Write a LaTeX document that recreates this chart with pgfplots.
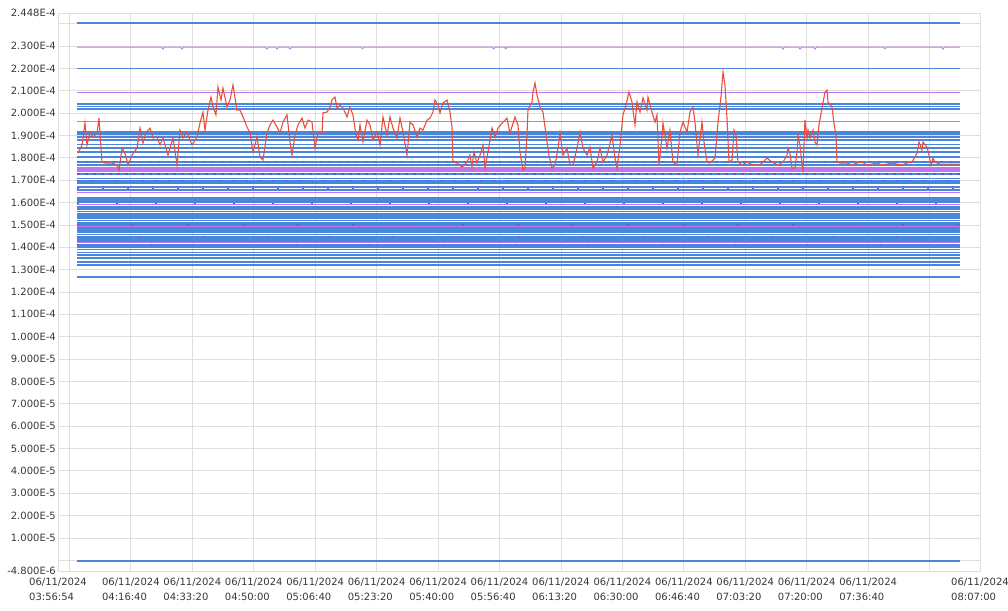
\documentclass[border=0pt]{standalone}
\usepackage{pgfplots}
\pgfplotsset{compat=1.18}
\usepackage{fontspec}
\setmainfont{DejaVu Sans}
\definecolor{lblue}{RGB}{74,134,220}
\definecolor{lpurp}{RGB}{190,118,238}
\definecolor{dpurp}{RGB}{105,80,225}
\definecolor{lred}{RGB}{236,78,62}
\definecolor{gridc}{RGB}{222,222,222}
\definecolor{labc}{RGB}{55,55,55}
\begin{document}
\begin{tikzpicture}[x=1pt,y=1pt]
\useasboundingbox (0,0) rectangle (1008,610);
\begin{axis}[
  at={(58pt,39pt)}, anchor=south west,
  scale only axis, width=922pt, height=558pt,
  xmin=14214, xmax=29220, ymin=-4.8e-6, ymax=2.448e-4,
  scaled x ticks=false, scaled y ticks=false,
  axis line style={draw=gridc, line width=0.8pt},
  tick style={draw=none},
  xtick={14214,15400,16400,17400,18400,19400,20400,21400,22400,23400,24400,25400,26400,27400,29220},
  xticklabels={{06/11/2024\\03:56:54},{06/11/2024\\04:16:40},{06/11/2024\\04:33:20},{06/11/2024\\04:50:00},{06/11/2024\\05:06:40},{06/11/2024\\05:23:20},{06/11/2024\\05:40:00},{06/11/2024\\05:56:40},{06/11/2024\\06:13:20},{06/11/2024\\06:30:00},{06/11/2024\\06:46:40},{06/11/2024\\07:03:20},{06/11/2024\\07:20:00},{06/11/2024\\07:36:40},{06/11/2024\\08:07:00}},
  ytick={-4.8e-6,1e-5,2e-5,3e-5,4e-5,5e-5,6e-5,7e-5,8e-5,9e-5,1e-4,1.1e-4,1.2e-4,1.3e-4,1.4e-4,1.5e-4,1.6e-4,1.7e-4,1.8e-4,1.9e-4,2e-4,2.1e-4,2.2e-4,2.3e-4,2.448e-4},
  yticklabels={-4.800E-6,1.000E-5,2.000E-5,3.000E-5,4.000E-5,5.000E-5,6.000E-5,7.000E-5,8.000E-5,9.000E-5,1.000E-4,1.100E-4,1.200E-4,1.300E-4,1.400E-4,1.500E-4,1.600E-4,1.700E-4,1.800E-4,1.900E-4,2.000E-4,2.100E-4,2.200E-4,2.300E-4,2.448E-4},
  minor xtick={14400,15400,16400,17400,18400,19400,20400,21400,22400,23400,24400,25400,26400,27400,28400},
  minor ytick={0,1e-5,2e-5,3e-5,4e-5,5e-5,6e-5,7e-5,8e-5,9e-5,1e-4,1.1e-4,1.2e-4,1.3e-4,1.4e-4,1.5e-4,1.6e-4,1.7e-4,1.8e-4,1.9e-4,2e-4,2.1e-4,2.2e-4,2.3e-4,2.4e-4},
  xminorgrids, yminorgrids,
  minor grid style={draw=gridc, line width=0.8pt},
  xticklabel style={align=left, font=\fontsize{10}{15}\selectfont, text=labc, inner sep=1pt, yshift=-6pt},
  yticklabel style={font=\fontsize{10}{12}\selectfont, text=labc, inner sep=1pt, xshift=-1pt},
]
% horizontal blue lines
\pgfplotsinvokeforeach{2.403e-4,2.200e-4,2.040e-4,2.030e-4,2.020e-4,1.915e-4,1.905e-4,1.895e-4,1.880e-4,1.860e-4,1.843e-4,1.825e-4,1.805e-4,1.783e-4,1.768e-4,1.728e-4,1.708e-4,1.696e-4,1.686e-4,1.671e-4,1.656e-4,1.622e-4,1.612e-4,1.602e-4,1.580e-4,1.570e-4,1.560e-4,1.550e-4,1.540e-4,1.530e-4,1.520e-4,1.510e-4,1.500e-4,1.487e-4,1.477e-4,1.467e-4,1.457e-4,1.447e-4,1.437e-4,1.427e-4,1.410e-4,1.400e-4,1.390e-4,1.377e-4,1.365e-4,1.351e-4,1.335e-4,1.321e-4,1.268e-4,-0.03e-5}{
  \addplot[lblue, line width=1.8pt, forget plot] coordinates {(14523,#1) (28894,#1)};
}
% horizontal purple lines
\pgfplotsinvokeforeach{2.094e-4,1.964e-4,1.643e-4,1.592e-4,1.495e-4,1.422e-4}{
  \addplot[lpurp, line width=1.0pt, forget plot] coordinates {(14523,#1) (28894,#1)};
}
\pgfplotsinvokeforeach{1.755e-4,1.745e-4,1.738e-4}{
  \addplot[lpurp, line width=1.4pt, forget plot] coordinates {(14523,#1) (28894,#1)};
}
% rows carrying small dark points
\addplot[dpurp, line width=1.2pt, dash pattern=on 2pt off 7pt, forget plot] coordinates {(14523,1.783e-4) (28894,1.783e-4)};
\addplot[dpurp, line width=1.2pt, dash pattern=on 3pt off 5pt, forget plot] coordinates {(14523,1.728e-4) (28894,1.728e-4)};
\addplot[dpurp, line width=1.2pt, dash pattern=on 2pt off 11pt, forget plot] coordinates {(14523,1.700e-4) (28894,1.700e-4)};
\addplot[dpurp, line width=1.0pt, dash pattern=on 2pt off 23pt, forget plot] coordinates {(14523,1.664e-4) (28894,1.664e-4)};
\addplot[dpurp, line width=1.0pt, dash pattern=on 2pt off 37pt, forget plot] coordinates {(14523,1.595e-4) (28894,1.595e-4)};
\addplot[dpurp, line width=1.0pt, dash pattern=on 2pt off 53pt, forget plot] coordinates {(14523,1.500e-4) (28894,1.500e-4)};
\addplot[dpurp, line width=1.0pt, dash pattern=on 2pt off 61pt, forget plot] coordinates {(14523,1.450e-4) (28894,1.450e-4)};
\addplot[dpurp, line width=1.0pt, dash pattern=on 2pt off 71pt, forget plot] coordinates {(14523,1.412e-4) (28894,1.412e-4)};
\addplot[lpurp, line width=1.0pt] coordinates {
(14523,2.295e-4) (15900,2.295e-4) (15923,2.287e-4) (15946,2.295e-4)
(16210,2.295e-4) (16232,2.287e-4) (16255,2.295e-4)
(17590,2.295e-4) (17616,2.287e-4) (17640,2.295e-4)
(17755,2.295e-4) (17778,2.287e-4) (17800,2.295e-4)
(17965,2.295e-4) (17990,2.287e-4) (18015,2.295e-4)
(19145,2.295e-4) (19170,2.288e-4) (19195,2.295e-4)
(21280,2.295e-4) (21305,2.288e-4) (21330,2.295e-4)
(21480,2.295e-4) (21500,2.288e-4) (21525,2.295e-4)
(25990,2.295e-4) (26013,2.287e-4) (26035,2.295e-4)
(26265,2.295e-4) (26290,2.287e-4) (26315,2.295e-4)
(26510,2.295e-4) (26534,2.287e-4) (26560,2.295e-4)
(27650,2.295e-4) (27673,2.288e-4) (27695,2.295e-4)
(28595,2.295e-4) (28617,2.287e-4) (28640,2.295e-4) (28894,2.295e-4)};
% red series
\addplot[lred, line width=1.1pt] coordinates {
(14540,1.821e-4) (14605,1.857e-4) (14653,1.956e-4) (14686,1.857e-4) (14735,1.915e-4)
(14784,1.893e-4) (14849,1.911e-4) (14881,1.978e-4) (14930,1.781e-4) (14979,1.777e-4)
(15093,1.777e-4) (15174,1.768e-4) (15207,1.745e-4) (15256,1.844e-4) (15304,1.821e-4)
(15353,1.768e-4) (15418,1.812e-4) (15500,1.844e-4) (15549,1.933e-4) (15597,1.866e-4)
(15646,1.915e-4) (15711,1.933e-4) (15760,1.889e-4) (15825,1.893e-4) (15874,1.857e-4)
(15923,1.889e-4) (16004,1.812e-4) (16086,1.889e-4) (16151,1.768e-4) (16200,1.924e-4)
(16248,1.889e-4) (16314,1.915e-4) (16395,1.857e-4) (16476,1.893e-4) (16525,1.956e-4)
(16574,2.005e-4) (16606,1.924e-4) (16655,2.014e-4) (16704,2.072e-4) (16737,2.027e-4)
(16785,1.992e-4) (16818,2.117e-4) (16867,2.059e-4) (16899,2.112e-4) (16964,2.027e-4)
(17013,2.059e-4) (17062,2.126e-4) (17127,2.014e-4) (17176,2.014e-4) (17225,1.983e-4)
(17290,1.938e-4) (17339,1.911e-4) (17388,1.826e-4) (17453,1.893e-4) (17502,1.803e-4)
(17550,1.790e-4) (17616,1.911e-4) (17664,1.947e-4) (17713,1.969e-4) (17778,1.938e-4)
(17827,1.911e-4) (17876,1.960e-4) (17941,1.992e-4) (17990,1.871e-4) (18022,1.812e-4)
(18071,1.902e-4) (18120,1.947e-4) (18185,1.978e-4) (18234,1.933e-4) (18283,1.969e-4)
(18348,1.960e-4) (18397,1.844e-4) (18446,1.915e-4) (18511,1.911e-4) (18527,2.001e-4)
(18592,2.005e-4) (18641,2.027e-4) (18673,2.059e-4) (18722,2.072e-4) (18755,2.023e-4)
(18804,2.036e-4) (18852,2.023e-4) (18918,1.983e-4) (18966,2.027e-4) (19015,1.992e-4)
(19064,1.902e-4) (19097,1.880e-4) (19129,1.947e-4) (19178,1.871e-4) (19243,1.969e-4)
(19292,1.947e-4) (19341,1.880e-4) (19406,1.915e-4) (19455,1.857e-4) (19503,1.983e-4)
(19569,1.902e-4) (19617,1.983e-4) (19666,1.933e-4) (19731,1.889e-4) (19780,1.978e-4)
(19829,1.915e-4) (19894,1.812e-4) (19943,1.960e-4) (19992,1.947e-4) (20057,1.893e-4)
(20106,1.933e-4) (20154,1.924e-4) (20220,1.969e-4) (20268,1.978e-4) (20317,2.005e-4)
(20350,2.059e-4) (20399,2.036e-4) (20431,2.001e-4) (20480,2.045e-4) (20545,2.059e-4)
(20594,2.005e-4) (20626,1.938e-4) (20643,1.781e-4) (20708,1.777e-4) (20789,1.759e-4)
(20871,1.781e-4) (20919,1.812e-4) (20952,1.759e-4) (20984,1.826e-4) (21033,1.777e-4)
(21082,1.812e-4) (21131,1.857e-4) (21163,1.754e-4) (21212,1.826e-4) (21277,1.933e-4)
(21326,1.893e-4) (21375,1.933e-4) (21456,1.960e-4) (21521,1.978e-4) (21570,1.911e-4)
(21652,1.983e-4) (21700,1.947e-4) (21733,1.826e-4) (21782,1.745e-4) (21814,1.754e-4)
(21847,1.902e-4) (21863,2.014e-4) (21928,2.050e-4) (21945,2.094e-4) (21977,2.135e-4)
(22010,2.081e-4) (22059,2.027e-4) (22107,2.005e-4) (22173,1.871e-4) (22205,1.812e-4)
(22254,1.754e-4) (22303,1.768e-4) (22352,1.844e-4) (22384,1.911e-4) (22433,1.812e-4)
(22498,1.844e-4) (22547,1.768e-4) (22596,1.768e-4) (22661,1.844e-4) (22710,1.915e-4)
(22758,1.844e-4) (22824,1.812e-4) (22872,1.848e-4) (22921,1.754e-4) (22986,1.781e-4)
(23035,1.844e-4) (23084,1.781e-4) (23149,1.812e-4) (23230,1.902e-4) (23279,1.799e-4)
(23312,1.754e-4) (23361,1.857e-4) (23409,1.992e-4) (23458,2.036e-4) (23507,2.094e-4)
(23556,2.050e-4) (23572,2.014e-4) (23605,1.947e-4) (23637,2.050e-4) (23686,2.005e-4)
(23735,2.068e-4) (23800,2.014e-4) (23816,2.072e-4) (23881,2.005e-4) (23930,1.960e-4)
(23963,1.992e-4) (23995,1.768e-4) (24044,1.893e-4) (24060,1.956e-4) (24126,1.844e-4)
(24174,1.924e-4) (24223,1.781e-4) (24288,1.768e-4) (24337,1.915e-4) (24386,1.960e-4)
(24451,1.915e-4) (24500,2.005e-4) (24549,2.027e-4) (24581,1.960e-4) (24630,1.812e-4)
(24695,1.960e-4) (24728,1.871e-4) (24777,1.781e-4) (24825,1.777e-4) (24907,1.799e-4)
(24956,1.960e-4) (25004,2.072e-4) (25037,2.184e-4) (25069,2.126e-4) (25102,1.978e-4)
(25135,1.781e-4) (25183,1.790e-4) (25216,1.924e-4) (25248,1.902e-4) (25281,1.781e-4)
(25346,1.768e-4) (25428,1.781e-4) (25525,1.768e-4) (25639,1.768e-4) (25720,1.790e-4)
(25753,1.799e-4) (25834,1.781e-4) (25932,1.768e-4) (26013,1.781e-4) (26079,1.812e-4)
(26095,1.844e-4) (26127,1.821e-4) (26160,1.754e-4) (26209,1.754e-4) (26241,1.826e-4)
(26258,1.902e-4) (26290,1.857e-4) (26323,1.768e-4) (26339,1.745e-4) (26371,1.969e-4)
(26404,1.889e-4) (26420,1.924e-4) (26453,1.889e-4) (26502,1.924e-4) (26534,1.871e-4)
(26567,1.857e-4) (26599,1.947e-4) (26648,2.023e-4) (26697,2.094e-4) (26730,2.103e-4)
(26746,2.050e-4) (26811,2.027e-4) (26843,1.956e-4) (26876,1.902e-4) (26892,1.781e-4)
(26941,1.777e-4) (27055,1.777e-4) (27137,1.768e-4) (27218,1.777e-4) (27300,1.781e-4)
(27381,1.768e-4) (27460,1.772e-4) (27543,1.777e-4) (27625,1.768e-4) (27706,1.772e-4)
(27790,1.777e-4) (27869,1.772e-4) (27950,1.768e-4) (28032,1.777e-4) (28113,1.781e-4)
(28194,1.821e-4) (28227,1.871e-4) (28276,1.835e-4) (28292,1.871e-4) (28357,1.848e-4)
(28390,1.812e-4) (28422,1.768e-4) (28455,1.799e-4) (28487,1.781e-4) (28569,1.772e-4)
(28683,1.772e-4) (28845,1.772e-4) (28894,1.772e-4)};
\end{axis}
\end{tikzpicture}
\end{document}
